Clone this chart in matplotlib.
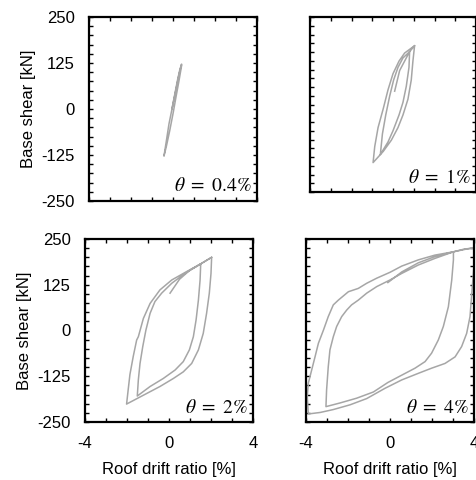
import numpy as np
import matplotlib
matplotlib.use("Agg")
import matplotlib.pyplot as plt
from matplotlib.ticker import MultipleLocator

plt.rcParams['font.family'] = ['Liberation Sans', 'DejaVu Sans']
plt.rcParams['mathtext.fontset'] = 'stix'
plt.rcParams['axes.unicode_minus'] = False

# valores: deriva de techo [%] y cortante basal [kN]
drift_04 = [-0.05, 0.10, 0.22, 0.33, 0.41, 0.29, 0.15, -0.02, -0.19, -0.32, -0.43,
            -0.31, -0.16, 0.01, 0.15, 0.28, 0.41]
shear_04 = [0, 45, 80, 108, 122, 95, 55, 8, -40, -88, -128,
            -100, -60, -10, 35, 75, 118]

drift_1 = [0.08, 0.32, 0.64, 0.80, 0.77, 0.64, 0.48, 0.29, 0.0, -0.24, -0.61,
           -0.51, -0.35, -0.16, 0.03, 0.24, 0.48, 0.80, 1.04,
           0.96, 0.88, 0.72, 0.48, 0.24, -0.08, -0.47, -0.96,
           -0.88, -0.72, -0.47, -0.24, 0.0, 0.29, 0.56, 1.04]
shear_1 = [38, 97, 133, 151, 106, 52, 6, -30, -75, -107, -143,
           -84, -30, 24, 70, 106, 133, 151, 168,
           124, 70, 15, -30, -66, -102, -134, -166,
           -120, -66, -12, 42, 88, 124, 147, 168]

drift_2 = [0.05, 0.5, 1.0, 1.51, 1.48, 1.40, 1.29, 1.16, 0.97, 0.68, 0.29, -0.27, -0.90, -1.51,
           -1.46, -1.38, -1.25, -1.10, -0.90, -0.67, -0.35, 0.13, 0.76, 1.51, 2.03,
           2.00, 1.92, 1.79, 1.63, 1.40, 1.08, 0.68, 0.21, -0.43, -1.06, -2.02,
           -1.94, -1.86, -1.70, -1.54, -1.46, -1.22, -0.90, -0.43, 0.13, 0.84, 1.51, 2.03]
shear_2 = [102, 140, 165, 182, 138, 83, 29, -17, -53, -85, -108, -131, -153, -179,
           -135, -90, -44, 1, 47, 79, 102, 129, 156, 182, 200,
           156, 102, 47, -8, -53, -90, -113, -131, -153, -172, -201,
           -160, -120, -70, -26, -17, 33, 74, 111, 138, 161, 182, 200]

drift_4 = [-0.10, 0.56, 1.35, 2.14, 3.02,
           3.02, 2.94, 2.78, 2.54, 2.30, 1.98, 1.67, 1.19, 0.56, -0.10, -0.79, -1.59, -2.38, -3.05,
           -3.02, -2.94, -2.86, -2.70, -2.54, -2.30, -2.06, -1.83, -1.51, -1.11, -0.63, 0.0, 0.56,
           1.35, 2.14, 3.02, 3.50, 4.13,
           4.02, 3.92, 3.81, 3.65, 3.41, 3.10, 2.62, 1.98, 1.35, 0.56, -0.24, -1.11, -1.90, -2.70,
           -3.33, -3.89,
           -3.94, -3.89, -3.73, -3.57, -3.41, -3.17, -2.94, -2.70, -2.46, -1.98, -1.51, -1.11, -0.63,
           0.0, 0.56, 1.35, 2.14, 3.02, 3.60, 4.13]
shear_4 = [131, 160, 185, 202, 215,
           193, 138, 65, 11, -26, -62, -85, -103, -122, -142, -168, -185, -198, -208,
           -163, -99, -53, -17, 11, 38, 56, 70, 83, 102, 120, 138, 156,
           179, 197, 215, 222, 227,
           193, 120, 38, -8, -44, -72, -90, -103, -117, -135, -158, -186, -203, -216,
           -224, -228,
           -181, -144, -108, -72, -35, 1, 38, 70, 83, 106, 115, 129, 143,
           159, 176, 193, 206, 215, 222, 227]

labels = [r'$\theta\ =\ 0.4\%$', r'$\theta\ =\ 1\%$', r'$\theta\ =\ 2\%$', r'$\theta\ =\ 4\%$']
x_ticks = [-4, 0, 4]
y_ticks = [-250, -125, 0, 125, 250]

W, H = 477, 480
fig = plt.figure(figsize=(W / 100, H / 100), dpi=100)

# posiciones en pixeles (izq, der, arriba, abajo)
boxes = [(89, 257, 17, 201), (310, 476, 17, 192), (85, 253, 239, 422), (306, 474, 239, 422)]
ylims = [(-250, 250), (-225, 250), (-250, 250), (-250, 250)]
datos = [(drift_04, shear_04), (drift_1, shear_1), (drift_2, shear_2), (drift_4, shear_4)]

for i, (l, r, t, b) in enumerate(boxes):
    ax = fig.add_axes([l / W, 1 - b / H, (r - l) / W, (b - t) / H])
    x, y = datos[i]
    ax.plot(x, y, color='#a6a6a6', linewidth=1.1)
    ax.set_xlim(-4, 4)
    ax.set_ylim(*ylims[i])
    ax.set_xticks(x_ticks)
    ax.set_yticks(y_ticks)
    ax.xaxis.set_minor_locator(MultipleLocator(1))
    ax.yaxis.set_minor_locator(MultipleLocator(25))
    ax.tick_params(which='both', direction='in', top=True, right=True,
                   length=3, width=1, labelsize=12, pad=10)
    for s in ax.spines.values():
        s.set_linewidth(1.6)
    if i < 2:
        ax.tick_params(labelbottom=False)
    else:
        ax.set_xlabel('Roof drift ratio [%]', fontsize=12, labelpad=8)
    if i % 2 == 1:
        ax.tick_params(labelleft=False)
    else:
        ax.set_ylabel('Base shear [kN]', fontsize=12, labelpad=4)
    ax.text(0.97, 0.03, labels[i], transform=ax.transAxes, ha='right', va='bottom',
            fontsize=14)

fig.savefig('out.png', dpi=100)
